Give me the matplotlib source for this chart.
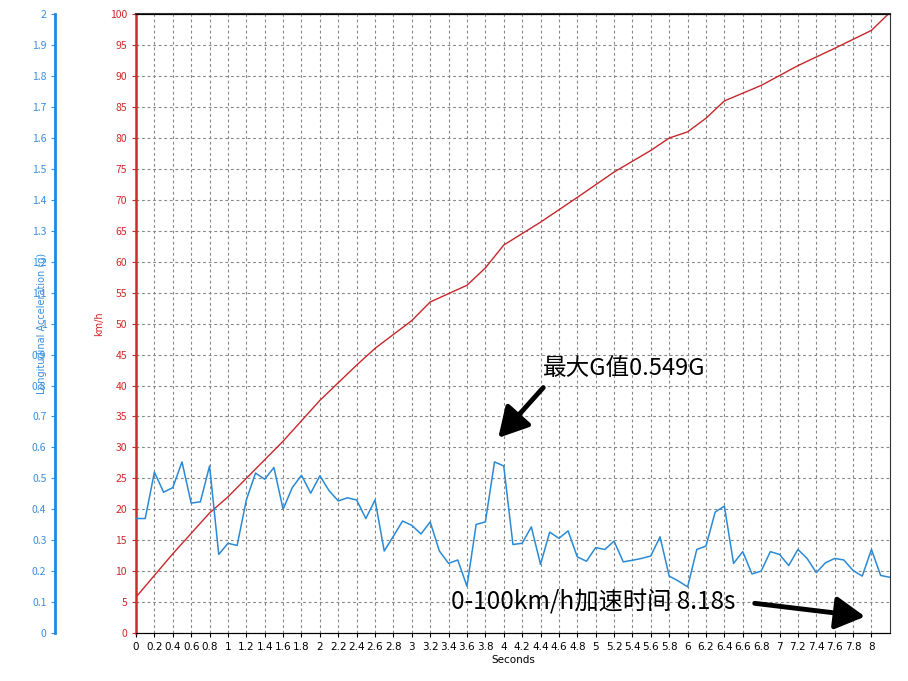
import matplotlib
matplotlib.use("Agg")
import matplotlib.pyplot as plt
import numpy as np

plt.rcParams['font.family'] = ['Noto Sans CJK SC', 'DejaVu Sans']

t_g = [round(0.1*i, 1) for i in range(83)]
g_vals = [0.37,0.37,0.52,0.455,0.47,0.553,0.42,0.424,0.54,0.254,
          0.29,0.283,0.43,0.517,0.497,0.535,0.40,0.47,0.51,0.452,
          0.508,0.46,0.427,0.437,0.43,0.37,0.43,0.265,0.313,0.362,
          0.348,0.32,0.359,0.265,0.225,0.236,0.151,0.351,0.359,0.553,
          0.54,0.286,0.29,0.343,0.222,0.326,0.306,0.33,0.246,0.232,
          0.276,0.27,0.297,0.23,0.235,0.241,0.249,0.311,0.184,0.168,
          0.149,0.27,0.281,0.391,0.41,0.225,0.263,0.191,0.2,0.263,
          0.254,0.218,0.27,0.241,0.195,0.227,0.241,0.236,0.202,0.184,
          0.27,0.186,0.18]
t_v = [0,0.4,0.8,1.0,1.2,1.4,1.6,2.0,2.4,2.6,3.0,3.2,3.6,3.8,4.0,4.4,4.8,5.2,5.6,5.8,6.0,6.2,6.4,6.8,7.2,7.6,8.0,8.18]
v_vals = [5.8,12.8,19.4,22,25,28,31,37.6,43.3,46,50.5,53.5,56.2,59,62.7,66.4,70.4,74.5,78,80,81,83.2,86,88.5,91.7,94.5,97.4,100]

fig = plt.figure(figsize=(9.08, 6.81), dpi=100)
ax = fig.add_axes([0.1498, 0.0705, 0.8302, 0.9085])
ax.plot(t_v, v_vals, color='#c8262a', lw=1)
ax.set_xlim(0, 8.2)
ax.set_ylim(0, 100)
xt = np.round(np.arange(0, 8.01, 0.2), 1)
ax.set_xticks(xt)
ax.set_xticklabels([('%g' % v) for v in xt], fontsize=7.5, family='DejaVu Sans')
ax.set_yticks(np.arange(0, 101, 5))
ax.tick_params(axis='y', colors='#d0282c', labelsize=7.5, length=3)
ax.tick_params(axis='x', labelsize=7.5, length=3)
ax.grid(True, ls=(0, (2.5, 2.5)), color='#888888', lw=0.8)
for s in ['top', 'right', 'bottom']:
    ax.spines[s].set_color('#333333')
ax.spines['top'].set_linewidth(1.5)
ax.spines['left'].set_color('#d0282c')
ax.spines['left'].set_linestyle((0, (3, 1)))
ax.spines['left'].set_linewidth(1.8)
ax.set_ylabel('km/h', color='#d0282c', fontsize=7, family='DejaVu Sans', labelpad=4)
ax.set_xlabel('Seconds', fontsize=7.5, family='DejaVu Sans', labelpad=2)

ax2 = ax.twinx()
ax2.plot(t_g, g_vals, color='#2a8ad6', lw=1.1)
ax2.set_ylim(0, 2)
ax2.set_yticks(np.round(np.arange(0, 2.01, 0.1), 1))
ax2.set_yticklabels([('%g' % v) for v in np.round(np.arange(0, 2.01, 0.1), 1)])
ax2.yaxis.set_ticks_position('left')
ax2.yaxis.set_label_position('left')
ax2.spines['left'].set_position(('outward', 58))
ax2.spines['left'].set_color('#1e88e5')
ax2.spines['left'].set_linewidth(2)
ax2.spines['right'].set_visible(False)
ax2.tick_params(axis='y', colors='#3a8ee0', labelsize=7.5, length=3)
ax2.set_ylabel('Longitudinal Acceleration (g)', color='#3a8ee0', fontsize=7, family='DejaVu Sans', labelpad=2)
ax2.yaxis.set_label_coords(-0.118, 0.5)

ax2.annotate('', xy=(3.92, 0.624), xytext=(4.45, 0.80),
             arrowprops=dict(arrowstyle='-|>,head_width=0.5,head_length=0.9', color='black', lw=3.5, mutation_scale=20))
ax2.text(5.31, 0.856, '最大G值0.549G', fontsize=17, ha='center', va='center')
ax2.text(4.97, 0.097, '0-100km/h加速时间 8.18s', fontsize=17.5, ha='center', va='center')
ax2.annotate('', xy=(7.96, 0.052), xytext=(6.70, 0.097),
             arrowprops=dict(arrowstyle='-|>,head_width=0.5,head_length=0.9', color='black', lw=3.5, mutation_scale=20))

fig.savefig('out.png', dpi=100)
